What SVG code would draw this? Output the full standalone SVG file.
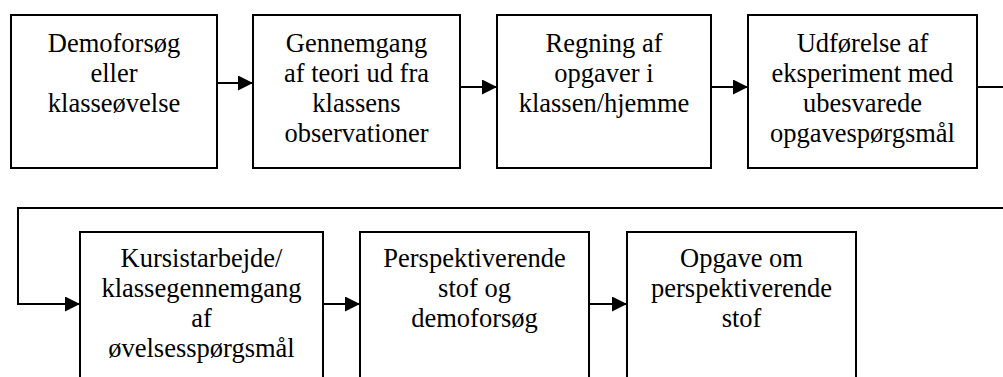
<svg xmlns="http://www.w3.org/2000/svg" width="1003" height="377" viewBox="0 0 1003 377">
<style>
.box{fill:#fff;stroke:#000;stroke-width:2}
.lbl{font-family:'Liberation Serif','Times New Roman',serif;font-size:26.5px;fill:#000;text-anchor:middle}
.con{fill:none;stroke:#000;stroke-width:2}
</style>
<defs>
<marker id="ah" markerUnits="userSpaceOnUse" markerWidth="16" markerHeight="16" refX="15" refY="7.5" orient="auto">
<path d="M0,0 L15,7.5 L0,15 Z" fill="#000"/>
</marker>
</defs>
<rect width="1003" height="377" fill="#fff"/>
<g id="connectors">
<line class="con" x1="217" y1="83" x2="253" y2="83" marker-end="url(#ah)"/>
<line class="con" x1="460" y1="87" x2="497" y2="87" marker-end="url(#ah)"/>
<line class="con" x1="711" y1="87" x2="748" y2="87" marker-end="url(#ah)"/>
<line class="con" x1="977" y1="87" x2="1004" y2="87"/>
<polyline class="con" points="1004,208 18,208 18,304 80,304" marker-end="url(#ah)"/>
<line class="con" x1="323" y1="304" x2="360" y2="304" marker-end="url(#ah)"/>
<line class="con" x1="589" y1="304" x2="627" y2="304" marker-end="url(#ah)"/>
</g>
<g id="n1">
<rect class="box" x="11" y="15" width="206" height="153"/>
<text class="lbl"><tspan x="114" y="52">Demoforsøg</tspan><tspan x="114" y="82">eller</tspan><tspan x="114" y="112">klasseøvelse</tspan></text>
</g>
<g id="n2">
<rect class="box" x="253" y="15" width="207" height="153"/>
<text class="lbl"><tspan x="356.5" y="52">Gennemgang</tspan><tspan x="356.5" y="82">af teori ud fra</tspan><tspan x="356.5" y="112">klassens</tspan><tspan x="356.5" y="142">observationer</tspan></text>
</g>
<g id="n3">
<rect class="box" x="497" y="15" width="214" height="153"/>
<text class="lbl"><tspan x="604" y="52">Regning af</tspan><tspan x="604" y="82">opgaver i</tspan><tspan x="604" y="112">klassen/hjemme</tspan></text>
</g>
<g id="n4">
<rect class="box" x="748" y="15" width="229" height="153"/>
<text class="lbl"><tspan x="862.5" y="52">Udførelse af</tspan><tspan x="862.5" y="82">eksperiment med</tspan><tspan x="862.5" y="112">ubesvarede</tspan><tspan x="862.5" y="142">opgavespørgsmål</tspan></text>
</g>
<g id="n5">
<rect class="box" x="80" y="232" width="243" height="160"/>
<text class="lbl"><tspan x="201.5" y="267">Kursistarbejde/</tspan><tspan x="201.5" y="297">klassegennemgang</tspan><tspan x="201.5" y="327">af</tspan><tspan x="201.5" y="357">øvelsesspørgsmål</tspan></text>
</g>
<g id="n6">
<rect class="box" x="360" y="232" width="229" height="160"/>
<text class="lbl"><tspan x="474.5" y="267">Perspektiverende</tspan><tspan x="474.5" y="297">stof og</tspan><tspan x="474.5" y="327">demoforsøg</tspan></text>
</g>
<g id="n7">
<rect class="box" x="627" y="232" width="229" height="160"/>
<text class="lbl"><tspan x="741.5" y="267">Opgave om</tspan><tspan x="741.5" y="297">perspektiverende</tspan><tspan x="741.5" y="327">stof</tspan></text>
</g>
</svg>
